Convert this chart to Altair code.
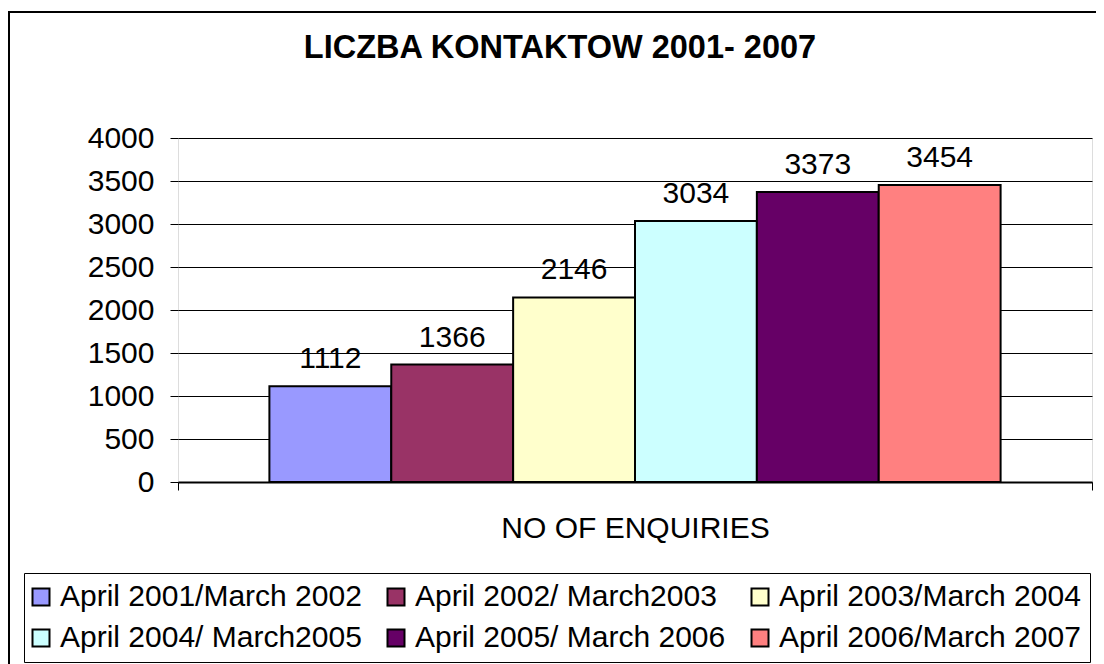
import altair as alt
import pandas as pd

periods = [
    "April 2001/March 2002",
    "April 2002/ March2003",
    "April 2003/March 2004",
    "April 2004/ March2005",
    "April 2005/ March 2006",
    "April 2006/March 2007",
]
enquiries = [1112, 1366, 2146, 3034, 3373, 3454]
colors = ["#9999FF", "#993366", "#FFFFCC", "#CCFFFF", "#660066", "#FF8080"]
category = "NO OF ENQUIRIES"
title_text = "LICZBA KONTAKTOW 2001- 2007"
y_ticks = [0, 500, 1000, 1500, 2000, 2500, 3000, 3500, 4000]

df = pd.DataFrame({"cat": [category] * len(periods), "period": periods, "value": enquiries})

# legend is filled column by column (2 rows), so order the colour domain to read row by row
legend_order = [periods[i] for i in (0, 3, 1, 4, 2, 5)]
legend_colors = [colors[periods.index(p)] for p in legend_order]

FONT = "Liberation Sans"
FS = 30

x_enc = alt.X(
    "cat:N",
    title=None,
    scale=alt.Scale(paddingInner=0, paddingOuter=0),
    axis=alt.Axis(
        labelAngle=0, tickBand="extent", tickSize=8, tickColor="black", tickWidth=1,
        domainColor="black", domainWidth=2, labelFontSize=FS, labelFont=FONT,
        labelColor="black", labelPadding=23, grid=False, labelLimit=600,
    ),
)
xoff = alt.XOffset(
    "period:N", sort=periods,
    scale=alt.Scale(paddingInner=0, paddingOuter=0.75),
)
y_enc = alt.Y(
    "value:Q",
    title=None,
    scale=alt.Scale(domain=[0, 4000], nice=False),
    axis=alt.Axis(
        values=y_ticks, format="d", grid=True, gridColor="black", gridWidth=1, domain=False,
        tickSize=8, tickColor="black", labelFontSize=FS, labelFont=FONT,
        labelColor="black", labelPadding=16,
    ),
)

base = alt.Chart(df)

bars = base.mark_bar(stroke="black", strokeWidth=2).encode(
    x=x_enc,
    xOffset=xoff,
    y=y_enc,
    color=alt.Color(
        "period:N",
        scale=alt.Scale(domain=legend_order, range=legend_colors),
        legend=alt.Legend(
            title=None, orient="none", legendX=-154, legendY=435, columns=3,
            symbolType="square", symbolSize=289, symbolStrokeColor="black",
            symbolStrokeWidth=2, symbolOffset=-7, labelFontSize=FS, labelFont=FONT,
            labelColor="black", labelOffset=4, columnPadding=21, rowPadding=11,
            padding=9, strokeColor="black", labelLimit=500, symbolOpacity=1,
        ),
    ),
)

labels = base.mark_text(
    baseline="alphabetic", dy=-18, fontSize=FS, font=FONT, color="black"
).encode(
    x=alt.X("cat:N"),
    xOffset=xoff,
    y=alt.Y("value:Q"),
    text=alt.Text("value:Q", format="d"),
)

one = pd.DataFrame({"t": [title_text]})

title = alt.Chart(one).mark_text(
    fontSize=32.5, font=FONT, fontWeight="bold", color="black",
    baseline="middle", align="center",
).encode(
    text="t:N", x=alt.value(382), y=alt.value(-90)
)

frame = alt.Chart(one).mark_rect(
    filled=False, stroke="black", strokeWidth=2
).encode(
    x=alt.value(-169), x2=alt.value(1200), y=alt.value(-126), y2=alt.value(800)
)

chart = alt.layer(bars, labels, title, frame).properties(
    width=914,
    height=344,
    autosize=alt.AutoSizeParams(type="none"),
    padding={"left": 170, "top": 130, "right": 4, "bottom": 182},
).configure_view(
    fill="#C0C0C0", stroke="#808080", strokeWidth=2
).configure(background="white")

chart.save("out.html", embed_options={"renderer": "svg", "actions": False})
